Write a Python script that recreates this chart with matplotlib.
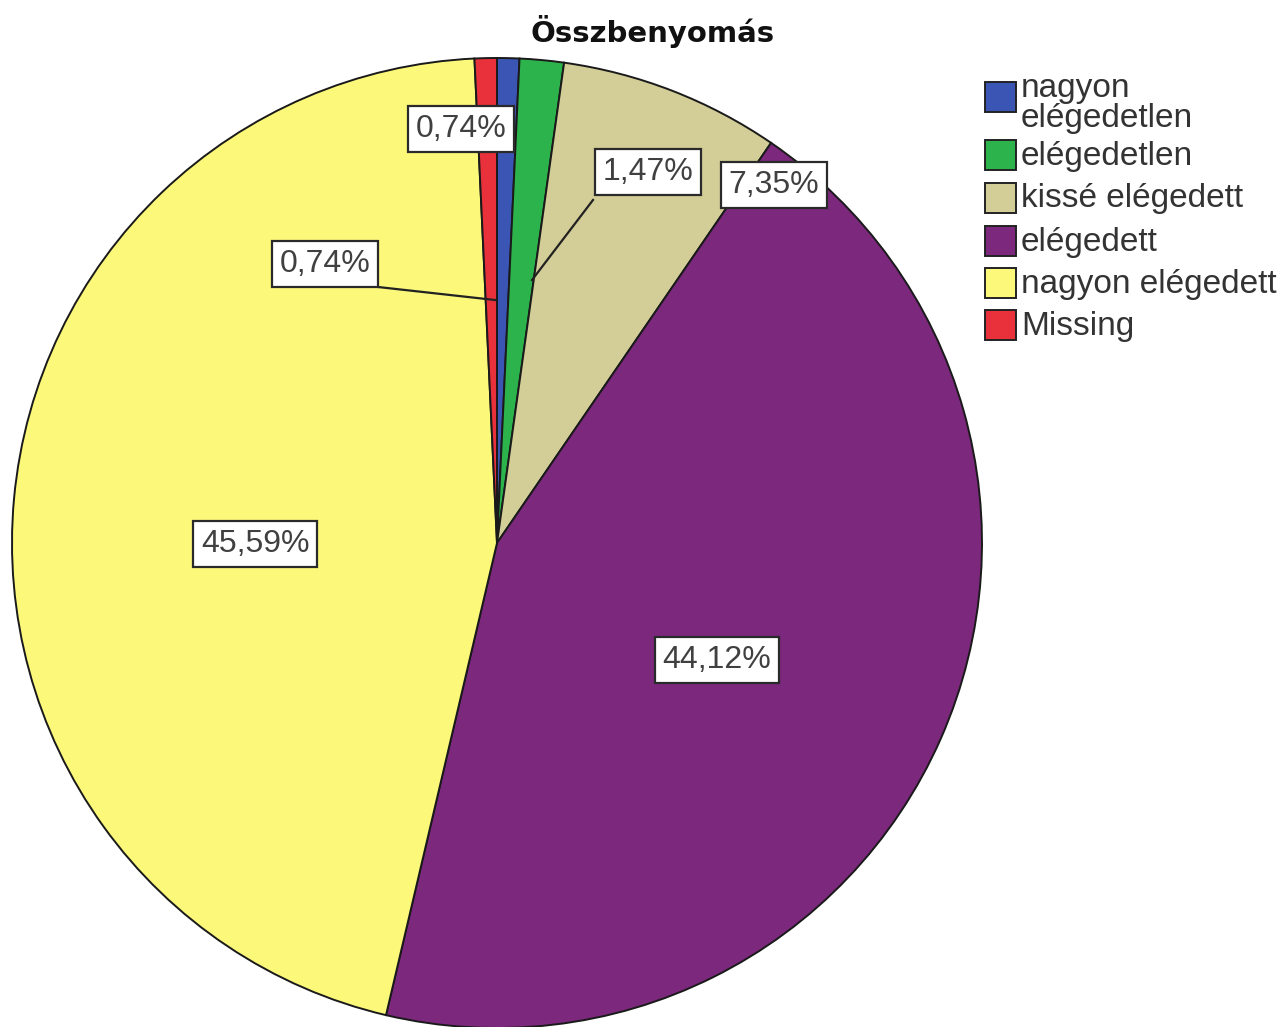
import matplotlib.pyplot as plt
from matplotlib.patches import Rectangle

categories = ['nagyon\nelégedetlen', 'elégedetlen', 'kissé elégedett',
              'elégedett', 'nagyon elégedett', 'Missing']
percents = [0.74, 1.47, 7.35, 44.12, 45.59, 0.74]
labels = ['0,74%', '1,47%', '7,35%', '44,12%', '45,59%', '0,74%']
colors = ['#3b55b4', '#2db34b', '#d3cd97', '#7c287d', '#fbf87a', '#e8313a']

# label box centres (pixels) and leader lines
label_pos = [(461, 129), (648, 172), (774, 185), (717, 660), (255, 544), (325, 264)]
leaders = {1: ((593, 532), (200, 280)), 5: ((378, 495), (287, 300))}

fig = plt.figure(figsize=(12.86, 10.27), dpi=100)
ax = fig.add_axes([0, 0, 1, 1])

ax.pie(percents, colors=colors, center=(497, 543), radius=485,
       startangle=-90, counterclock=True,
       wedgeprops=dict(edgecolor='#1a1a1a', linewidth=1.4))
ax.set_xlim(0, 1286)
ax.set_ylim(1027, 0)
ax.axis('off')

for i, (xs, ys) in leaders.items():
    ax.plot(xs, ys, color='#222222', lw=1.6, zorder=3)

for lab, (x, y) in zip(labels, label_pos):
    ax.text(x, y, lab, ha='center', va='center', fontsize=23,
            family='Liberation Sans', color='#404040', zorder=5,
            bbox=dict(boxstyle='square,pad=0.25', fc='white', ec='#2a2a2a', lw=1.6))

ax.text(653, 32, 'Összbenyomás', ha='center', va='center', fontsize=21,
        fontweight='bold', family='DejaVu Sans', color='#111111')

# legend
tops = [82, 140, 183, 226, 268, 310]
for cat, col, top in zip(categories, colors, tops):
    ax.add_patch(Rectangle((985, top), 31, 30, fc=col, ec='#222222', lw=1.4, zorder=4))
    if '\n' in cat:
        ax.text(1021, top - 9, cat, ha='left', va='top', fontsize=24,
                family='Liberation Sans', color='#333333', linespacing=0.95)
    else:
        ax.text(1021, top + 16, cat, ha='left', va='center', fontsize=24,
                family='Liberation Sans', color='#333333')

fig.savefig('out.png', dpi=100)
